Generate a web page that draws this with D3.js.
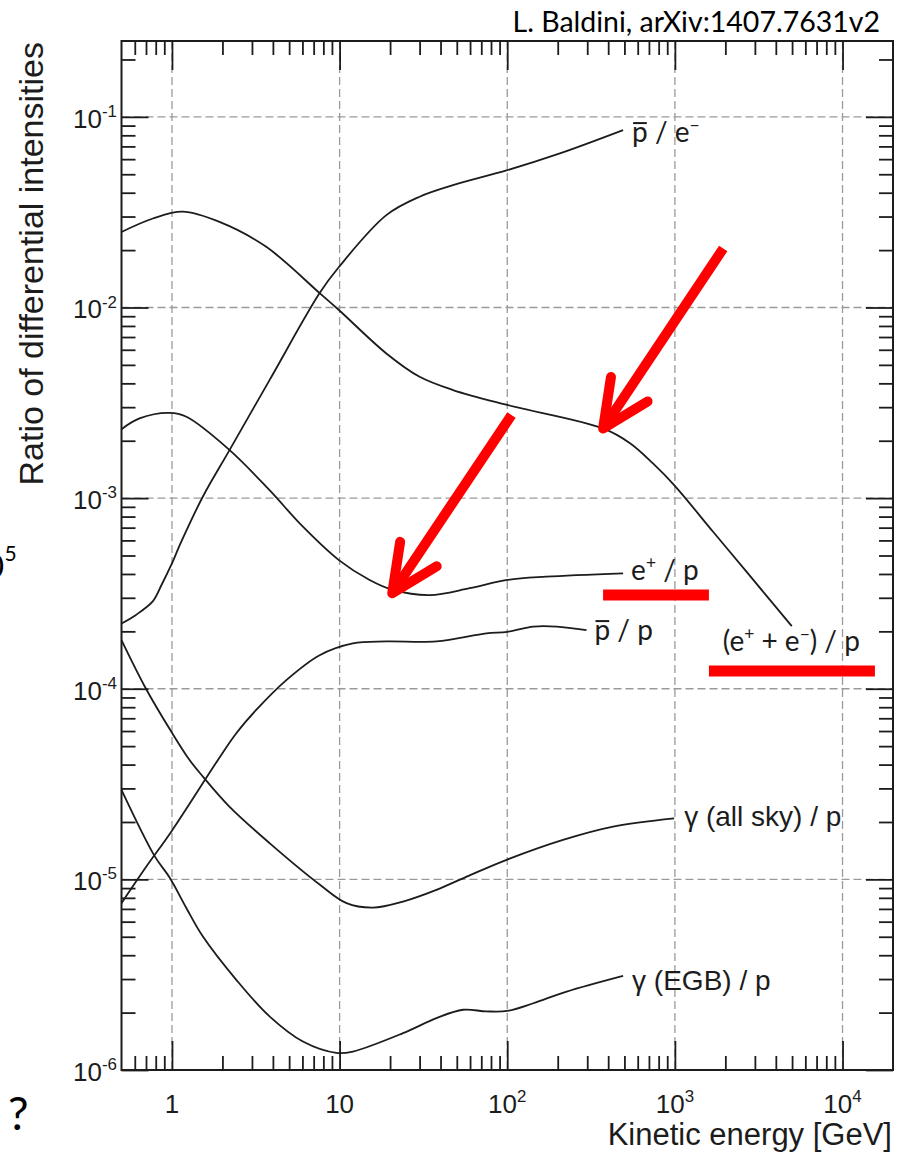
<!DOCTYPE html>
<html>
<head>
<meta charset="utf-8">
<script src="https://cdn.jsdelivr.net/npm/d3@7"></script>
<style>
    body { margin: 0; background: #fff; }
    svg { display: block; }
</style>
</head>
<body>
<svg id="chart" width="904" height="1160"></svg>
<script>
// Ratios, [kinetic energy in GeV, ratio]
const allElectronsOverP = [
    [0.5, 0.0249], [0.77, 0.0293], [1.16, 0.0318], [1.92, 0.0281], [3.65, 0.0208],
    [7.6, 0.0119], [9.9, 0.0097], [19, 0.00574], [30, 0.00433], [47.5, 0.00369],
    [100, 0.00308], [373, 0.00232], [540, 0.00194], [740, 0.00152], [990, 0.00117],
    [1690, 6.66e-4], [2680, 4.1e-4], [4980, 2.13e-4]
];
const antiprotonsOverElectrons = [
    [0.5, 2.2e-4], [0.61, 2.44e-4], [0.77, 2.88e-4], [0.866, 3.5e-4], [0.99, 4.46e-4],
    [1.135, 5.89e-4], [1.53, 1.02e-3], [2.2, 1.78e-3], [3.82, 4.16e-3], [7.6, 0.0119],
    [9.9, 0.0163], [19, 0.0305], [30, 0.0381], [47.5, 0.0438], [100, 0.0525],
    [206, 0.0643], [491, 0.0852]
];
const positronsOverP = [
    [0.5, 2.3e-3], [0.64, 2.62e-3], [0.97, 2.8e-3], [1.22, 2.67e-3], [2.2, 1.79e-3],
    [3.82, 1.1e-3], [6.04, 7.08e-4], [9.9, 4.73e-4], [15.1, 3.72e-4], [20.8, 3.3e-4],
    [34.5, 3.1e-4], [59.7, 3.37e-4], [100, 3.72e-4], [171, 3.87e-4], [491, 4.03e-4]
];
const antiprotonsOverP = [
    [0.5, 7.5e-6], [0.7, 1.16e-5], [0.99, 1.78e-5], [1.88, 4.23e-5], [2.42, 5.84e-5],
    [3.18, 7.74e-5], [4.81, 1.11e-4], [7.6, 1.5e-4], [12, 1.73e-4], [19, 1.77e-4],
    [37.8, 1.77e-4], [75, 1.95e-4], [100, 1.99e-4], [143, 2.12e-4], [197, 2.12e-4],
    [297, 2.03e-4]
];
const gammaAllSkyOverP = [
    [0.5, 1.8e-4], [0.7, 1.0e-4], [0.99, 5.96e-5], [1.27, 4.24e-5], [1.53, 3.46e-5],
    [2.2, 2.41e-5], [3.82, 1.55e-5], [7.6, 9.4e-6], [11, 7.5e-6], [15.8, 7.11e-6],
    [23.9, 7.65e-6], [37.8, 8.81e-6], [59.7, 1.05e-5], [100, 1.27e-5], [215, 1.61e-5],
    [428, 1.89e-5], [990, 2.09e-5]
];
const gammaEgbOverP = [
    [0.5, 2.95e-5], [0.79, 1.32e-5], [0.97, 1.02e-5], [1.22, 7.06e-6], [1.53, 5.01e-6],
    [2.42, 2.97e-6], [3.82, 1.91e-6], [6.04, 1.41e-6], [9.56, 1.23e-6], [12, 1.25e-6],
    [23.9, 1.56e-6], [37.8, 1.87e-6], [54.5, 2.07e-6], [75, 2.03e-6], [100, 2.04e-6],
    [143, 2.24e-6], [226, 2.58e-6], [491, 3.12e-6]
];

const xMajorTicks = [1, 10, 100, 1000, 10000];
const xTickLabels = [['1', ''], ['10', ''], ['10', '2'], ['10', '3'], ['10', '4']];
const yMajorTicks = [1e-1, 1e-2, 1e-3, 1e-4, 1e-5, 1e-6];
const yTickLabels = [['10', '-1'], ['10', '-2'], ['10', '-3'], ['10', '-4'], ['10', '-5'], ['10', '-6']];

// red highlights added on top of the original plot
const highlightArrows = [
    { from: [1942, 0.0204], to: [373, 2.32e-3] },
    { from: [106, 2.73e-3], to: [20.6, 3.17e-4] }
];
const highlightBars = [
    { from: [373, 3.1e-4], to: [1596, 3.1e-4] },
    { from: [1596, 1.24e-4], to: [15600, 1.24e-4] }
];

const ink = '#1c1c1c';
const calibri = 'Lato, "Open Sans", sans-serif';
const arial = '"Liberation Sans", Arial, sans-serif';

const svg = d3.select('#chart');
const frame = { left: 121.5, right: 893, top: 41, bottom: 1070 };

const x = d3.scaleLog().domain([0.5, 2e4]).range([frame.left, frame.right]);
const y = d3.scaleLog().domain([1e-6, 0.25]).range([frame.bottom, frame.top]);

// minor ticks: 2..9 of each decade inside the frame
const xMinorTicks = [];
[0.1, 1, 10, 100, 1000, 10000].forEach(d => {
    for (let k = 2; k <= 9; k++) if (d * k > 0.5 && d * k < 2e4) xMinorTicks.push(d * k);
});
const yMinorTicks = [];
[1e-6, 1e-5, 1e-4, 1e-3, 1e-2, 1e-1].forEach(d => {
    for (let k = 2; k <= 9; k++) if (d * k < 0.25) yMinorTicks.push(d * k);
});

// dashed grid
const grid = svg.append('g')
    .attr('stroke', '#9a9a9a')
    .attr('stroke-width', 1.3)
    .attr('stroke-dasharray', '8,4');

grid.selectAll('.vgrid')
    .data(xMajorTicks)
    .join('line')
    .attr('x1', d => x(d)).attr('x2', d => x(d))
    .attr('y1', frame.top).attr('y2', frame.bottom);

grid.selectAll('.hgrid')
    .data(yMajorTicks.filter(d => d > 1e-6))
    .join('line')
    .attr('x1', frame.left).attr('x2', frame.right)
    .attr('y1', d => y(d)).attr('y2', d => y(d));

// inward ticks on all four sides
function tickAxis(axisFn, scale, values, size, transform) {
    svg.append('g')
        .attr('transform', transform)
        .call(axisFn(scale).tickValues(values).tickSize(size).tickSizeOuter(0).tickFormat(''))
        .call(a => a.select('.domain').remove())
        .call(a => a.selectAll('line').attr('stroke', ink).attr('stroke-width', 1.8));
}
tickAxis(d3.axisBottom, x, xMajorTicks, -29, `translate(0,${frame.bottom})`);
tickAxis(d3.axisBottom, x, xMinorTicks, -14, `translate(0,${frame.bottom})`);
tickAxis(d3.axisTop, x, xMajorTicks, -29, `translate(0,${frame.top})`);
tickAxis(d3.axisTop, x, xMinorTicks, -14, `translate(0,${frame.top})`);
tickAxis(d3.axisLeft, y, yMajorTicks, -27, `translate(${frame.left},0)`);
tickAxis(d3.axisLeft, y, yMinorTicks, -14, `translate(${frame.left},0)`);
tickAxis(d3.axisRight, y, yMajorTicks, -27, `translate(${frame.right},0)`);
tickAxis(d3.axisRight, y, yMinorTicks, -14, `translate(${frame.right},0)`);

svg.append('rect')
    .attr('x', frame.left).attr('y', frame.top)
    .attr('width', frame.right - frame.left)
    .attr('height', frame.bottom - frame.top)
    .attr('fill', 'none')
    .attr('stroke', ink)
    .attr('stroke-width', 2);

// tick labels with superscript exponents
function powerLabel(sel, parts, size) {
    sel.append('tspan').text(parts[0]);
    if (parts[1]) {
        sel.append('tspan')
            .attr('dy', -size * 0.42)
            .style('font-size', (size * 0.65) + 'px')
            .text(parts[1]);
    }
}

xMajorTicks.forEach((v, i) => {
    const t = svg.append('text')
        .attr('x', x(v)).attr('y', 1113)
        .attr('text-anchor', 'middle')
        .style('font-family', arial).style('font-size', '26px')
        .attr('fill', ink);
    powerLabel(t, xTickLabels[i], 26);
});

yMajorTicks.forEach((v, i) => {
    const t = svg.append('text')
        .attr('x', 117).attr('y', y(v) + 11)
        .attr('text-anchor', 'end')
        .style('font-family', arial).style('font-size', '26px')
        .attr('fill', ink);
    powerLabel(t, yTickLabels[i], 26);
});

// axis titles
svg.append('text')
    .attr('x', 892).attr('y', 1145)
    .attr('text-anchor', 'end')
    .style('font-family', arial).style('font-size', '31px')
    .attr('fill', ink)
    .text('Kinetic energy [GeV]');

svg.append('text')
    .attr('transform', 'translate(43,42) rotate(-90)')
    .attr('text-anchor', 'end')
    .style('font-family', arial).style('font-size', '34px')
    .attr('fill', ink)
    .text('Ratio of differential intensities');

// curves
const line = d3.line()
    .x(d => x(d[0]))
    .y(d => y(d[1]))
    .curve(d3.curveCatmullRom.alpha(0.5));

const series = [allElectronsOverP, antiprotonsOverElectrons, positronsOverP,
    antiprotonsOverP, gammaAllSkyOverP, gammaEgbOverP];

svg.append('g')
    .selectAll('path')
    .data(series)
    .join('path')
    .attr('d', line)
    .attr('fill', 'none')
    .attr('stroke', ink)
    .attr('stroke-width', 1.8);

// curve labels, placed next to the end of each curve
function curveLabel(data, dx, dy, parts, family, size) {
    const end = data[data.length - 1];
    const px = x(end[0]) + dx;
    const py = y(end[1]) + dy;
    const text = svg.append('text')
        .attr('x', px).attr('y', py)
        .style('font-family', family)
        .style('font-size', size + 'px')
        .style('white-space', 'pre')
        .attr('fill', ink);
    let raised = false;
    const barred = [];
    parts.forEach(p => {
        const ts = text.append('tspan').text(p.t);
        if (p.sup) {
            ts.attr('dy', -size * 0.4).style('font-size', (size * 0.62) + 'px');
            raised = true;
        } else if (raised) {
            ts.attr('dy', size * 0.4);
            raised = false;
        }
        if (p.bar) barred.push(ts);
    });
    barred.forEach(ts => {
        const b = ts.node().getBBox();
        svg.append('line')
            .attr('x1', b.x + 1).attr('x2', b.x + b.width - 1)
            .attr('y1', py - size * 0.68).attr('y2', py - size * 0.68)
            .attr('stroke', ink)
            .attr('stroke-width', 2);
    });
}

curveLabel(antiprotonsOverElectrons, 9, 12,
    [{ t: 'p', bar: true }, { t: ' / e' }, { t: '\u2212', sup: true }], calibri, 28);
curveLabel(positronsOverP, 8, 7,
    [{ t: 'e' }, { t: '+', sup: true }, { t: ' / p' }], calibri, 28);
curveLabel(antiprotonsOverP, 8, 10,
    [{ t: 'p', bar: true }, { t: ' / p' }], calibri, 28);
curveLabel(allElectronsOverP, -69, 25,
    [{ t: '(e' }, { t: '+', sup: true }, { t: ' + e' }, { t: '\u2212', sup: true }, { t: ') / p' }], calibri, 28);
curveLabel(gammaAllSkyOverP, 10, 8,
    [{ t: '\u03b3 (all sky) / p' }], arial, 28);
curveLabel(gammaEgbOverP, 9, 14,
    [{ t: '\u03b3 (EGB) / p' }], arial, 28);

// red highlights
const red = '#ff0000';
highlightArrows.forEach(a => {
    const x0 = x(a.from[0]), y0 = y(a.from[1]);
    const x1 = x(a.to[0]), y1 = y(a.to[1]);
    const back = Math.atan2(y0 - y1, x0 - x1);
    const head = 52, spread = 25 * Math.PI / 180;
    svg.append('line')
        .attr('x1', x0).attr('y1', y0).attr('x2', x1).attr('y2', y1)
        .attr('stroke', red).attr('stroke-width', 10);
    svg.append('path')
        .attr('d', `M${x1 + head * Math.cos(back - spread)},${y1 + head * Math.sin(back - spread)}` +
            `L${x1},${y1}` +
            `L${x1 + head * Math.cos(back + spread)},${y1 + head * Math.sin(back + spread)}`)
        .attr('fill', 'none')
        .attr('stroke', red).attr('stroke-width', 10)
        .attr('stroke-linecap', 'round').attr('stroke-linejoin', 'round');
});

svg.selectAll('.bar')
    .data(highlightBars)
    .join('line')
    .attr('x1', d => x(d.from[0])).attr('y1', d => y(d.from[1]))
    .attr('x2', d => x(d.to[0])).attr('y2', d => y(d.to[1]))
    .attr('stroke', red).attr('stroke-width', 11);

// slide texts around the figure
svg.append('text')
    .attr('x', 880).attr('y', 32)
    .attr('text-anchor', 'end')
    .style('font-family', calibri).style('font-size', '28.5px')
    .attr('fill', '#000')
    .text('L. Baldini, arXiv:1407.7631v2');

svg.append('text')
    .attr('x', 8).attr('y', 1130)
    .style('font-family', calibri).style('font-size', '46px')
    .attr('fill', '#000')
    .text('?');

svg.append('text')
    .attr('x', 4).attr('y', 578)
    .attr('text-anchor', 'end')
    .style('font-family', calibri).style('font-size', '32px')
    .attr('fill', '#000')
    .text('10');
svg.append('text')
    .attr('x', 4.5).attr('y', 561)
    .style('font-family', calibri).style('font-size', '21px')
    .attr('fill', '#000')
    .text('5');
</script>
</body>
</html>
